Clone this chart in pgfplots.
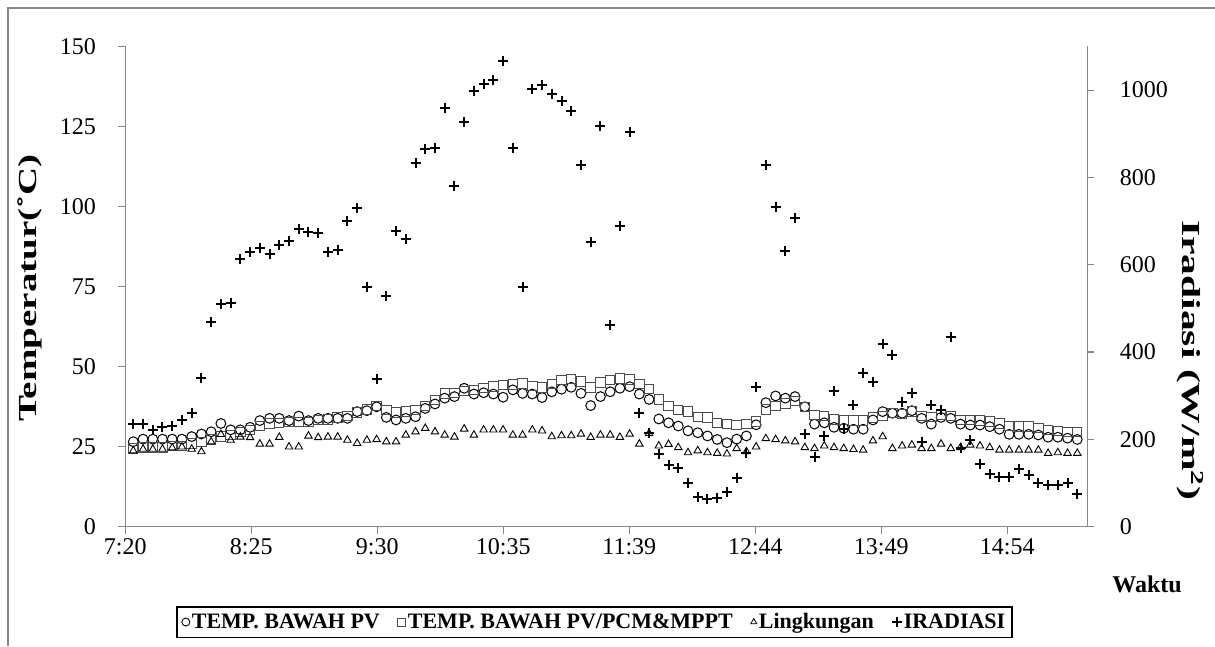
\documentclass[border=0pt]{standalone}
\usepackage{fontspec}
\setmainfont{Liberation Serif}
\usepackage{pgfplots}
\pgfplotsset{compat=1.18}
\usepackage{pgfplotstable}

\pgfplotstableread{
i pv pcm ling irr
0 26.5 24.4 23.7 236
1 27.3 24.7 24.2 234
2 27.3 24.7 24.2 222
3 27.3 24.7 24.2 228
4 27.3 25.1 24.6 230
5 27.3 25.1 24.9 245
6 28.1 25.9 24.2 259
7 28.9 26.5 23.4 341
8 29.6 27.2 26.5 468
9 32.2 28.1 28.8 509
10 30.2 28.6 27.0 512
11 30.2 29.6 28.0 613
12 31.0 30.2 27.8 630
13 33.1 31.4 25.8 638
14 33.8 32.2 25.8 624
15 33.8 32.4 27.9 646
16 33.1 32.7 24.9 655
17 34.5 32.7 24.9 682
18 33.1 32.7 28.3 674
19 33.8 33.3 27.8 672
20 33.8 33.5 28.0 630
21 33.8 34.1 28.0 634
22 33.8 34.5 27.0 700
23 35.9 35.6 26.0 729
24 36.2 36.6 27.0 550
25 37.4 37.7 27.2 339
26 34.1 36.4 26.5 528
27 33.3 35.6 26.5 678
28 33.8 35.9 28.6 659
29 34.3 36.4 29.6 832
30 36.9 37.7 30.7 864
31 38.3 39.5 29.6 867
32 40.1 41.6 28.6 960
33 40.6 41.8 28.0 781
34 43.2 42.4 30.5 927
35 41.4 42.7 28.6 999
36 41.8 43.2 30.2 1014
37 41.4 43.7 30.2 1024
38 40.4 44.2 30.2 1066
39 42.7 44.4 28.6 868
40 41.6 44.7 28.6 550
41 41.4 43.9 30.2 1003
42 40.3 43.5 29.9 1011
43 42.1 44.5 28.1 992
44 42.9 45.8 28.4 975
45 43.5 46.1 28.4 952
46 41.6 45.3 28.9 829
47 37.8 43.5 27.9 651
48 40.6 45.0 28.6 918
49 42.1 45.8 28.6 461
50 43.2 46.3 27.9 689
51 43.7 46.0 28.9 905
52 41.4 44.5 25.8 260
53 39.7 42.9 29.1 215
54 33.6 39.7 25.2 167
55 32.4 37.7 25.7 141
56 31.4 36.4 24.7 134
57 29.9 35.9 23.1 99
58 29.3 34.3 23.7 68
59 28.3 34.1 23.1 63
60 27.2 32.4 22.9 66
61 26.2 32.0 22.7 80
62 27.3 31.7 24.4 112
63 28.3 32.0 23.4 169
64 31.8 32.8 24.9 320
65 38.7 36.6 27.5 828
66 40.8 37.7 27.2 733
67 40.1 38.5 26.8 631
68 40.6 39.3 26.5 708
69 37.4 37.4 24.7 211
70 32.0 34.8 24.4 159
71 32.4 34.5 25.2 207
72 31.0 33.5 24.7 310
73 30.7 33.3 24.4 224
74 30.4 33.1 24.1 278
75 30.4 33.1 23.9 352
76 33.3 34.1 26.8 331
77 35.9 34.5 28.1 419
78 35.4 35.4 24.4 394
79 35.4 35.2 25.2 285
80 36.2 35.9 25.5 306
81 33.8 34.5 24.4 194
82 32.0 34.3 24.4 279
83 34.1 34.8 25.8 266
84 33.8 34.5 24.4 434
85 32.0 33.3 24.7 179
86 31.7 33.3 25.5 198
87 31.7 33.1 25.2 143
88 31.2 32.8 24.7 120
89 30.4 32.2 23.9 114
90 28.8 31.4 23.9 114
91 28.8 31.2 23.9 131
92 28.8 31.2 23.9 118
93 28.6 30.7 23.9 99
94 27.9 30.2 22.9 96
95 27.9 29.9 23.1 96
96 27.6 29.6 22.9 100
97 27.2 29.6 22.9 74
}\data

\definecolor{axgray}{RGB}{134,134,134}

\pgfplotsset{
  common/.style={
    scale only axis, width=962pt, height=480pt,
    at={(0pt,0pt)}, anchor=south west,
    xmin=-0.822, xmax=98.03,
    tick align=outside, major tick length=7pt,
    axis line style={axgray, line width=1.2pt, -},
    every tick/.style={axgray, line width=1.2pt},
    tick label style={font=\fontsize{24}{24}\selectfont},
    /pgf/number format/assume math mode=true,
    /pgf/number format/1000 sep={},
    clip=false,
  },
  mk/.style={legend image code/.code={\draw[##1] plot coordinates {(0pt,0pt)};}},
}

\begin{document}
\begin{tikzpicture}[x=1pt,y=1pt]
\useasboundingbox (-125.3,-119.5) rectangle (1089.7,526.5);
\draw[axgray, line width=1.2pt] (-117.3,-119.5) -- (-117.3,518.5) -- (1089.7,518.5);

\begin{axis}[common,
  ymin=0, ymax=150,
  axis x line*=bottom, axis y line*=left,
  xtick={-0.822,12.125,25.07,38.02,50.97,63.92,76.86,89.81},
  xticklabels={7:20,8:25,9:30,10:35,11:39,12:44,13:49,14:54},
  xticklabel style={yshift=-2pt},
  ytick={0,25,...,150},
  yticklabel style={xshift=-19pt},
]
\addplot[only marks, mark=o, mark size=4.9pt, mark options={line width=1pt, black}] table[x expr=\coordindex, y=pv]{\data};
\addplot[only marks, mark=square, mark size=4.7pt, mark options={line width=1pt, black!70}] table[x expr=\coordindex, y=pcm]{\data};
\addplot[only marks, mark=triangle, mark size=4.3pt, mark options={line width=0.9pt, black}] table[x expr=\coordindex, y=ling]{\data};
\end{axis}

\begin{axis}[common,
  ymin=0, ymax=1100,
  axis x line=none, axis y line*=right,
  ytick={0,200,...,1000},
  yticklabel style={xshift=22pt},
  legend columns=4,
  legend style={at={(0.4878,-0.199)}, anchor=center, draw=black, line width=1.8pt,
    font=\bfseries\fontsize{22}{22}\selectfont, inner sep=5pt,
    /tikz/every even column/.append style={column sep=16pt}},
  legend cell align=left,
]
\addlegendimage{only marks, mark=o, mark size=4pt, mark options={line width=0.9pt, black}, mk}
\addlegendentry{TEMP. BAWAH PV}
\addlegendimage{only marks, mark=square, mark size=4pt, mark options={line width=0.9pt, black!70}, mk}
\addlegendentry{TEMP. BAWAH PV/PCM\&MPPT}
\addlegendimage{only marks, mark=triangle, mark size=3.5pt, mark options={line width=0.8pt, black}, mk}
\addlegendentry{Lingkungan}
\addplot[only marks, mark=+, mark size=5pt, mark options={line width=2pt, black}, mk] table[x expr=\coordindex, y=irr]{\data};
\addlegendentry{IRADIASI}
\end{axis}

\node[rotate=90, font=\bfseries\fontsize{26}{26}\selectfont] at (-95,238.5) {\scalebox{1.5}[1]{Temperatur(˚C)}};
\node[rotate=-90, font=\bfseries\fontsize{26}{26}\selectfont] at (1065,166.5) {\scalebox{1.6}[1]{Iradiasi (W/m\textsuperscript{2})}};
\node[font=\bfseries\fontsize{24}{24}\selectfont] at (1021.7,-57.5) {Waktu};
\end{tikzpicture}
\end{document}
